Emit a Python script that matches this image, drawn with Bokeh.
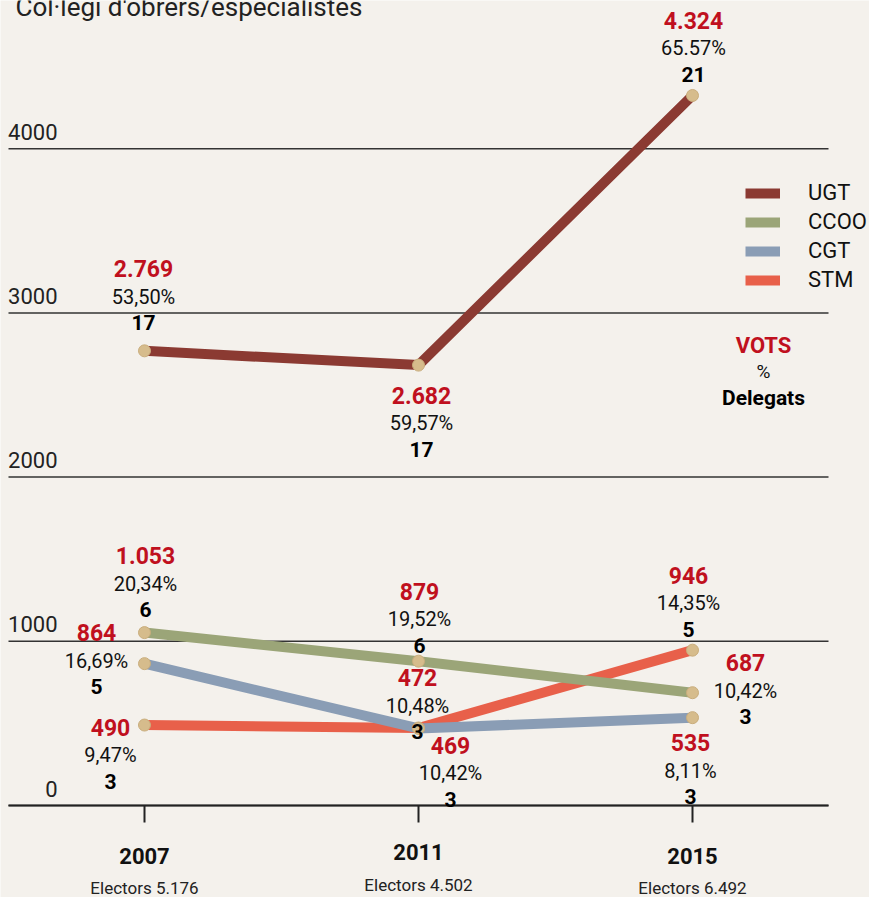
from bokeh.plotting import figure
from bokeh.models import Range1d, Legend, LegendItem
from bokeh.core.properties import value
from bokeh.embed import file_html
from bokeh.resources import INLINE

# ---------------- data ----------------
years = [2007, 2011, 2015]
electors = ["5.176", "4.502", "6.492"]
y_ticks = [0, 1000, 2000, 3000, 4000]

series_names = ["UGT", "CCOO", "CGT", "STM"]
ugt_votes = [2769, 2682, 4324]
ugt_pct = ["53,50%", "59,57%", "65.57%"]
ugt_del = [17, 17, 21]
ccoo_votes = [1053, 879, 687]
ccoo_pct = ["20,34%", "19,52%", "10,42%"]
ccoo_del = [6, 6, 3]
cgt_votes = [864, 469, 535]
cgt_pct = ["16,69%", "10,42%", "8,11%"]
cgt_del = [5, 3, 3]
stm_votes = [490, 472, 946]
stm_pct = ["9,47%", "10,48%", "14,35%"]
stm_del = [3, 3, 5]

title_text = "Col·legi d'obrers/especialistes"
key_lines = ["VOTS", "%", "Delegats"]

# ---------------- layout / style ----------------
W, H = 869, 897
PX_X = 68.5          # px per year
PX_Y = 0.1642        # px per vote
X0 = 2007 - 144 / PX_X
X1 = X0 + W / PX_X
Y1 = 805 / PX_Y
Y0 = Y1 - H / PX_Y

def xd(px):
    return X0 + px / PX_X

def yd(py):
    return Y1 - py / PX_Y

BG = "#f4f1ec"
FONT = "Roboto"
RED = "#c0101e"
colors = {"UGT": "#8b3a32", "CCOO": "#9ba578", "CGT": "#8a9db5", "STM": "#e8604a"}
# offsets (px) of the vote label centre relative to each point
offsets = {
    "UGT": [(-1, -82), (3, 30), (1, -75)],
    "CCOO": [(1, -77), (1, -70), (53, -30)],
    "CGT": [(-48, -31), (32, 17), (-2, 25)],
    "STM": [(-34, 2), (-1, -50), (-4, -75)],
}
year_label_py = [855, 851, 855]
elector_label_py = [887, 884, 887]

data = {
    "UGT": (ugt_votes, ugt_pct, ugt_del),
    "CCOO": (ccoo_votes, ccoo_pct, ccoo_del),
    "CGT": (cgt_votes, cgt_pct, cgt_del),
    "STM": (stm_votes, stm_pct, stm_del),
}

p = figure(width=W, height=H, x_range=Range1d(X0, X1), y_range=Range1d(Y0, Y1),
           output_backend="svg", toolbar_location=None, min_border=0)
p.axis.visible = False
p.grid.visible = False
p.outline_line_color = None
p.background_fill_color = BG
p.border_fill_color = BG

# gridlines
gx0 = [xd(8)] * len(y_ticks)
gx1 = [xd(828)] * len(y_ticks)
p.segment(x0=gx0, x1=gx1, y0=y_ticks, y1=y_ticks, line_color="#333333", line_width=1.5)
p.segment(x0=[xd(8)], x1=[xd(828)], y0=[0], y1=[0], line_color="#222222", line_width=2)
# tick labels
p.text(x=[xd(57)] * len(y_ticks), y=[t + 17 / PX_Y for t in y_ticks], text=[str(t) for t in y_ticks],
       text_align="right", text_baseline="middle", text_font=value(FONT),
       text_font_size="22px", text_color="#222222")
# x ticks
p.segment(x0=years, x1=years, y0=[0] * 3, y1=[-17 / PX_Y] * 3, line_color="#222222", line_width=2)
p.text(x=years, y=[yd(v) for v in year_label_py], text=[str(y) for y in years], text_align="center",
       text_baseline="middle", text_font=value(FONT), text_font_style="bold",
       text_font_size="22px", text_color="#111111")
p.text(x=years, y=[yd(v) for v in elector_label_py], text=["Electors " + e for e in electors],
       text_align="center", text_baseline="middle", text_font=value(FONT),
       text_font_size="17px", text_color="#222222")

# lines
renderers = {}
for name in ["STM", "CGT", "CCOO", "UGT"]:
    renderers[name] = p.line(years, data[name][0], line_color=colors[name], line_width=10,
                             line_join="round")
for name in ["STM", "CGT", "CCOO", "UGT"]:
    p.scatter(years, data[name][0], size=12, fill_color="#d6bc8c", line_color="#c9ad7c", line_width=1)

# value labels
vx, vy, vt, px_, py_, pt, dx_, dy_, dt = [], [], [], [], [], [], [], [], []
for name in series_names:
    votes, pcts, dels = data[name]
    for i, yr in enumerate(years):
        ox, oy = offsets[name][i]
        x = yr + ox / PX_X
        yv = votes[i] - oy / PX_Y
        vx.append(x); vy.append(yv); vt.append(f"{votes[i]:,}".replace(",", "."))
        px_.append(x); py_.append(yv - 28 / PX_Y); pt.append(pcts[i])
        dx_.append(x); dy_.append(yv - 54 / PX_Y); dt.append(str(dels[i]))

p.text(x=vx, y=vy, text=vt, text_align="center", text_baseline="middle", text_font=value(FONT),
       text_font_style="bold", text_font_size="23px", text_color=RED)
p.text(x=px_, y=py_, text=pt, text_align="center", text_baseline="middle", text_font=value(FONT),
       text_font_size="20px", text_color="#111111")
p.text(x=dx_, y=dy_, text=dt, text_align="center", text_baseline="middle", text_font=value(FONT),
       text_font_style="bold", text_font_size="21px", text_color="#000000")

# key
p.text(x=[xd(763)], y=[yd(345)], text=[key_lines[0]], text_align="center", text_baseline="middle",
       text_font=value(FONT), text_font_style="bold", text_font_size="22px", text_color=RED)
p.text(x=[xd(763)], y=[yd(371)], text=[key_lines[1]], text_align="center", text_baseline="middle",
       text_font=value(FONT), text_font_size="19px", text_color="#111111")
p.text(x=[xd(763)], y=[yd(397)], text=[key_lines[2]], text_align="center", text_baseline="middle",
       text_font=value(FONT), text_font_style="bold", text_font_size="21px", text_color="#000000")

# title (cut off at top as in reference)
p.text(x=[xd(15)], y=[yd(6)], text=[title_text], text_align="left", text_baseline="alphabetic",
       text_font=value(FONT), text_font_size="26px", text_color="#222222")

legend = Legend(items=[LegendItem(label=n, renderers=[renderers[n]]) for n in series_names],
                location=(745, 605), glyph_width=35, glyph_height=20, label_height=20,
                label_standoff=28, spacing=4, padding=0, margin=0,
                background_fill_alpha=0, border_line_alpha=0,
                label_text_font=FONT, label_text_font_size="22px", label_text_color="#111111")
p.add_layout(legend)

open("out.html", "w").write(file_html(p, INLINE))
